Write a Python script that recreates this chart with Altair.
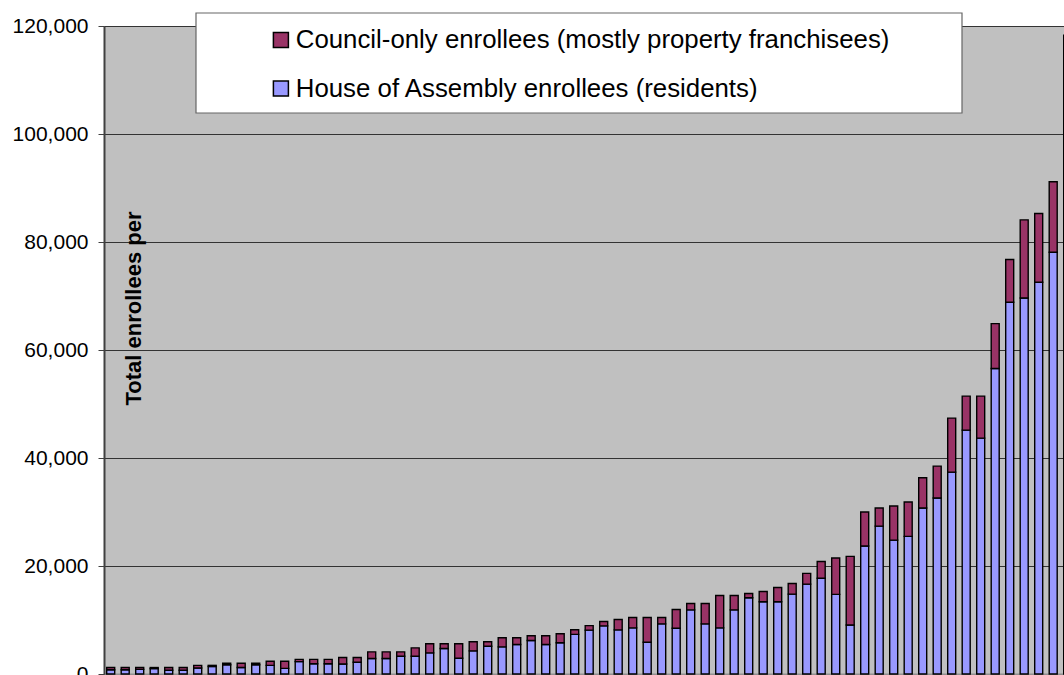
import altair as alt
import pandas as pd

# bar ids (district order as drawn, left to right)
bar_ids = list(range(1, 68))

# House of Assembly enrollees (residents) - lower segment
house = [800, 800, 850, 1000, 700, 700, 1100, 1400, 1700, 1200,
         1700, 1600, 1050, 2300, 1900, 1900, 1850, 2170, 2860, 2860,
         3290, 3290, 3910, 4720, 2920, 4290, 5150, 5030, 5460, 6210,
         5460, 5780, 7330, 8120, 8910, 8170, 8540, 5880, 9290, 8480,
         11880, 9290, 8540, 11880, 14110, 13370, 13370, 14790, 16650, 17740,
         14750, 9070, 23690, 27390, 24800, 25480, 30730, 32580, 37390, 45170,
         43680, 56580, 68840, 69640, 72550, 78110, 100000]

# Total enrollees per district (house + council-only)
total = [1200, 1200, 1200, 1200, 1200, 1200, 1600, 1600, 2000, 2000,
         2000, 2350, 2350, 2700, 2700, 2700, 3050, 3050, 4100, 4100,
         4100, 4840, 5590, 5590, 5590, 5960, 5960, 6710, 6710, 7080,
         7080, 7450, 8200, 8960, 9720, 10090, 10460, 10460, 10460, 11950,
         13060, 13060, 14550, 14550, 14920, 15290, 16030, 16770, 18630, 20820,
         21470, 21780, 29990, 30730, 31100, 31840, 36340, 38500, 47390, 51460,
         51460, 64880, 76750, 84100, 85280, 91150, 118300]

council = [t - h for t, h in zip(total, house)]

series_names = ["Council-only enrollees (mostly property franchisees)",
                "House of Assembly enrollees (residents)"]
series_colors = ["#993366", "#9999FF"]
y_ticks = [0, 20000, 40000, 60000, 80000, 100000, 120000]

rows = []
for b, h, c in zip(bar_ids, house, council):
    rows.append({"bar": b, "series": series_names[1], "value": h, "ord": 0})
    rows.append({"bar": b, "series": series_names[0], "value": c, "ord": 1})
df = pd.DataFrame(rows)

FONT = "Arial, Liberation Sans, sans-serif"

bars = alt.Chart(df).mark_bar(size=8, stroke="black", strokeWidth=1.4).encode(
    x=alt.X("bar:Q",
            scale=alt.Scale(domain=[0.538, 66.745], nice=False, zero=False, padding=0),
            axis=alt.Axis(labels=False, ticks=False, grid=False, title=None,
                          domainColor="#909090", domainWidth=2)),
    y=alt.Y("value:Q", stack="zero",
            scale=alt.Scale(domain=[0, 120000], nice=False, padding=0),
            axis=alt.Axis(values=y_ticks, format=",d", grid=True,
                          gridColor="#333333", gridWidth=1,
                          domainColor="#404040", domainWidth=2,
                          tickColor="#404040", tickSize=6, tickWidth=1,
                          labelFont=FONT, labelFontSize=21, labelColor="black",
                          labelPadding=10,
                          title="Total enrollees per",
                          titleFont=FONT, titleFontSize=22, titleFontWeight="bold",
                          titleColor="black",
                          titleAngle=270, titleX=36, titleY=282,
                          titleAlign="center", titleBaseline="alphabetic")),
    color=alt.Color("series:N",
                    scale=alt.Scale(domain=series_names, range=series_colors),
                    legend=alt.Legend(orient="none", legendX=164, legendY=1,
                                      title=None, padding=0,
                                      symbolType="square", symbolSize=225,
                                      symbolStrokeColor="black", symbolStrokeWidth=1.5,
                                      symbolOpacity=1,
                                      labelFont=FONT, labelFontSize=25.8,
                                      labelColor="black", labelOffset=2,
                                      labelLimit=1000, rowPadding=21.7,
                                      zindex=1)),
    order=alt.Order("ord:Q"),
)

box = alt.Chart(alt.Data(values=[{"k": 1}])).mark_rect(
    fill="white", stroke="#666666", strokeWidth=1.2
).encode(
    x=alt.value(92), x2=alt.value(858), y=alt.value(-13), y2=alt.value(87)
)

chart = alt.layer(bars, box).properties(
    width=960, height=648,
    autosize=alt.AutoSizeParams(type="none"),
    padding={"left": 104, "top": 26, "right": 0, "bottom": 1},
    background="white",
).configure_view(fill="#C0C0C0", stroke="#808080", strokeWidth=1)

chart.save("out.html", embed_options={"renderer": "svg", "actions": False})
